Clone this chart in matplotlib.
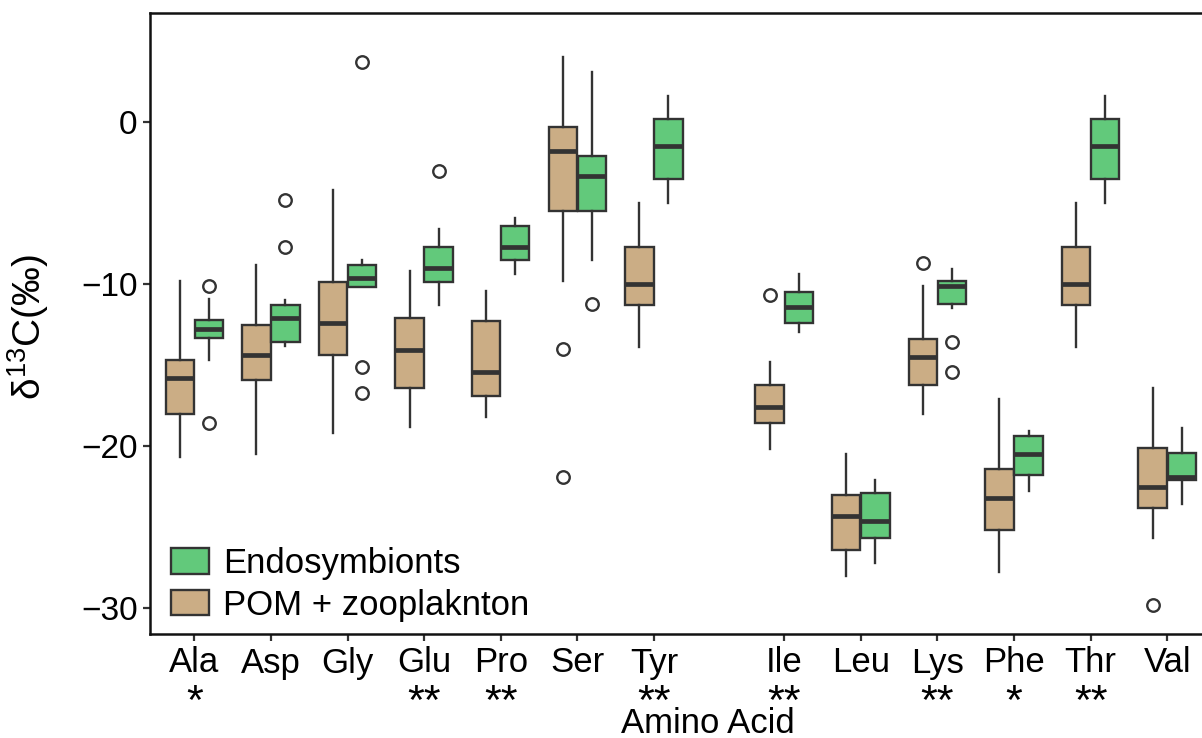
import matplotlib.pyplot as plt
from matplotlib.patches import Patch

plt.rcParams["font.family"] = ["Liberation Sans", "DejaVu Sans"]
plt.rcParams["mathtext.fontset"] = "custom"
plt.rcParams["mathtext.rm"] = "Liberation Sans"
plt.rcParams["mathtext.it"] = "Liberation Sans:italic"

amino = ["Ala", "Asp", "Gly", "Glu", "Pro", "Ser", "Tyr",
         "Ile", "Leu", "Lys", "Phe", "Thr", "Val"]
xpos = [0, 1, 2, 3, 4, 5, 6, 7.7, 8.7, 9.7, 10.7, 11.7, 12.7]
signif = ["*", "", "", "**", "**", "", "**", "**", "", "**", "*", "**", ""]

# POM + zooplankton
pom_whislo = [-20.7, -20.5, -19.2, -18.8, -18.2, -9.8, -13.9, -20.2, -28.0, -18.0, -27.8, -13.9, -25.7]
pom_q1 = [-18.0, -15.9, -14.4, -16.4, -16.9, -5.5, -11.3, -18.6, -26.4, -16.2, -25.2, -11.3, -23.8]
pom_med = [-15.8, -14.4, -12.4, -14.1, -15.4, -1.8, -10.0, -17.6, -24.3, -14.5, -23.2, -10.0, -22.5]
pom_q3 = [-14.7, -12.5, -9.9, -12.1, -12.3, -0.3, -7.7, -16.2, -23.0, -13.4, -21.4, -7.7, -20.1]
pom_whishi = [-9.8, -8.8, -4.2, -9.2, -10.4, 4.0, -5.0, -14.8, -20.5, -10.1, -17.1, -5.0, -16.4]
pom_fliers = [[], [], [], [], [], [-14.0, -21.9], [], [-10.7], [], [-8.7], [], [], [-29.8]]

# endosymbionts
endo_whislo = [-14.7, -13.8, -10.2, -11.3, -9.35, -8.5, -5.0, -12.95, -27.2, -11.5, -22.8, -5.0, -23.6]
endo_q1 = [-13.3, -13.6, -10.2, -9.9, -8.5, -5.5, -3.5, -12.4, -25.7, -11.2, -21.8, -3.5, -22.1]
endo_med = [-12.8, -12.1, -9.6, -9.0, -7.7, -3.3, -1.5, -11.4, -24.6, -10.1, -20.5, -1.5, -21.9]
endo_q3 = [-12.2, -11.3, -8.8, -7.7, -6.4, -2.1, 0.2, -10.5, -22.9, -9.8, -19.4, 0.2, -20.4]
endo_whishi = [-10.9, -11.0, -8.5, -6.6, -5.95, 3.1, 1.6, -9.4, -22.1, -9.1, -19.1, 1.6, -18.9]
endo_fliers = [[-10.1, -18.6], [-4.8, -7.7], [3.7, -15.1, -16.7], [-3.0], [], [-11.2], [],
               [], [], [-13.6, -15.4], [], [], []]

pom_color = "#CBAD85"
endo_color = "#62C97B"
edge = "#333333"


def stats(lo, q1, med, q3, hi, fl):
    return [dict(whislo=a, q1=b, med=c, q3=d, whishi=e, fliers=f)
            for a, b, c, d, e, f in zip(lo, q1, med, q3, hi, fl)]


fig = plt.figure(figsize=(12.02, 7.38), dpi=100)
ax = fig.add_axes([150 / 1202, 1 - 634 / 738, 1054 / 1202, (634 - 12.7) / 738])

off, w = 0.19, 0.37
groups = [
    (stats(pom_whislo, pom_q1, pom_med, pom_q3, pom_whishi, pom_fliers), -off, pom_color),
    (stats(endo_whislo, endo_q1, endo_med, endo_q3, endo_whishi, endo_fliers), off, endo_color),
]
for st, dx, col in groups:
    ax.bxp(st, positions=[x + dx for x in xpos], widths=w, patch_artist=True,
           showcaps=False,
           boxprops=dict(facecolor=col, edgecolor=edge, linewidth=1.7),
           medianprops=dict(color=edge, linewidth=3.4, solid_capstyle="butt"),
           whiskerprops=dict(color=edge, linewidth=1.7),
           flierprops=dict(marker="o", markersize=9, markerfacecolor="none",
                           markeredgecolor=edge, markeredgewidth=1.7))

ax.set_xlim(-0.578, 13.18)
ax.set_ylim(-31.6, 6.75)
ax.set_xticks(xpos)
ax.set_xticklabels(amino, fontsize=25)
ax.set_yticks([0, -10, -20, -30])
ax.tick_params(axis="y", labelsize=24, length=5, width=1.6, color=edge, pad=4)
ax.tick_params(axis="x", length=5, width=1.6, color=edge, pad=4)
for s in ax.spines.values():
    s.set_linewidth(1.8)
    s.set_color("#111111")

# significance marks under the amino acid names
for x, s in zip(xpos, signif):
    if s:
        ax.text(x, -0.128, s, transform=ax.get_xaxis_transform(), ha="center",
                va="baseline", fontsize=31)

ax.set_xlabel("Amino Acid", fontsize=25)
ax.xaxis.set_label_coords(0.5295, -0.159)
ax.xaxis.label.set_verticalalignment("baseline")
ax.set_ylabel("δ$^{13}$C(‰)", fontsize=28)
ax.yaxis.set_label_coords(-0.094, 0.494)

handles = [Patch(facecolor=endo_color, edgecolor=edge, linewidth=1.7, label="Endosymbionts"),
           Patch(facecolor=pom_color, edgecolor=edge, linewidth=1.7, label="POM + zooplaknton")]
ax.legend(handles=handles, loc="lower left", bbox_to_anchor=(0.02, 0.02), frameon=False,
          fontsize=25, handlelength=1.1, handleheight=0.75, handletextpad=0.4,
          labelspacing=0.25, borderpad=0, borderaxespad=0)

fig.savefig("out.png", dpi=100)
